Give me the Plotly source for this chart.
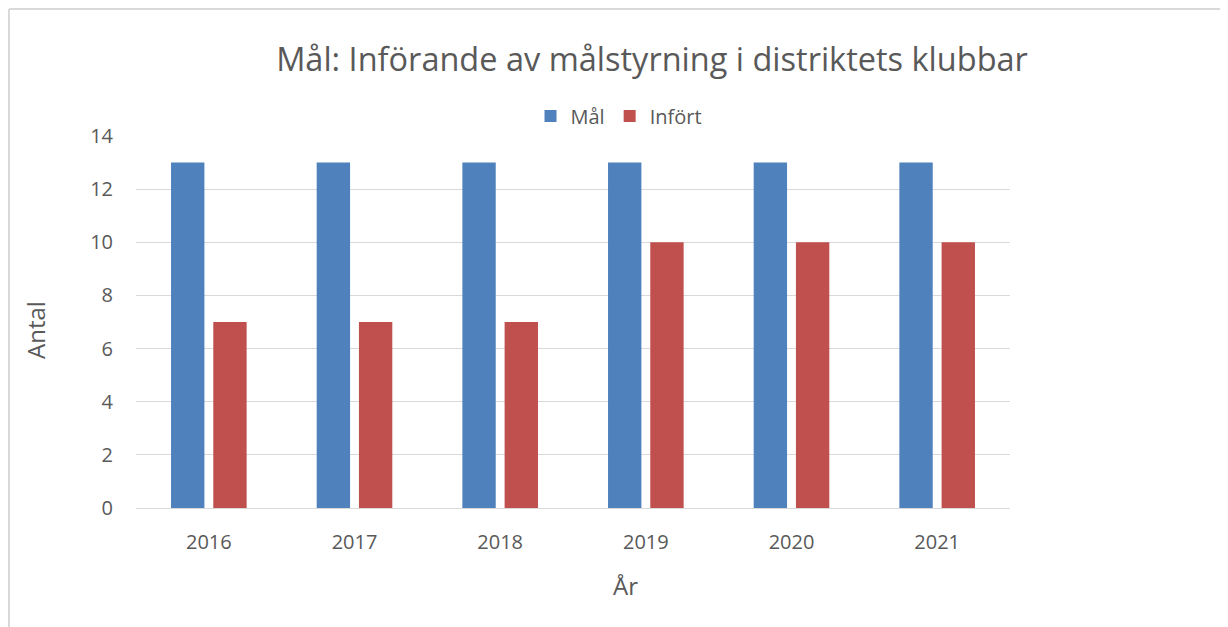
import plotly.graph_objects as go

years = ["2016", "2017", "2018", "2019", "2020", "2021"]
mal = [13, 13, 13, 13, 13, 13]
infort = [7, 7, 7, 10, 10, 10]
y_ticks = [0, 2, 4, 6, 8, 10, 12, 14]

# page offset (browser body margin)
OFF = 8
PW, PH = 1228, 627
W, H = PW - OFF, PH - OFF
L, R, T, B = 136, 1010, 136, 508  # plot area in page pixels
txt = "#595959"
grid = "#D9D9D9"
font = "Open Sans"

fig = go.Figure()
fig.add_trace(go.Bar(name="Mål", x=years, y=mal, marker=dict(color="#4F81BD", line=dict(width=0))))
fig.add_trace(go.Bar(name="Infört", x=years, y=infort, marker=dict(color="#C0504D", line=dict(width=0))))

def px_x(p):
    return (p - L) / (R - L)

def px_y(p):
    return (B - p) / (B - T)

fig.update_layout(
    width=W, height=H,
    margin=dict(l=L - OFF, r=W - (R - OFF), t=T - OFF, b=H - (B - OFF), pad=0),
    paper_bgcolor="white", plot_bgcolor="white",
    barmode="group", bargap=0.42, bargroupgap=0.21,
    font=dict(family=font, color=txt),
    title=dict(text="Mål: Införande av målstyrning i distriktets klubbar",
               x=px_x(652), xref="paper", xanchor="center",
               y=1 - (60 - OFF) / H, yref="container", yanchor="middle",
               font=dict(size=32.5, color=txt, family=font)),
    legend=dict(orientation="h", x=px_x(619), xanchor="center", y=px_y(116), yanchor="middle",
                font=dict(size=20, color=txt), itemwidth=30, traceorder="normal",
                bgcolor="rgba(0,0,0,0)"),
    xaxis=dict(showgrid=False, showline=True, linecolor=grid, linewidth=1,
               tickfont=dict(size=20, color=txt), ticks="", ticklabelstandoff=16),
    yaxis=dict(range=[0, 14], tickvals=y_ticks, showgrid=True, gridcolor=grid, gridwidth=1,
               zeroline=False, showline=False, ticks="",
               tickfont=dict(size=20, color=txt), ticklabelstandoff=22),
    annotations=[
        dict(text="År", xref="paper", yref="paper", x=px_x(625), y=px_y(585),
             xanchor="center", yanchor="middle", showarrow=False,
             font=dict(size=24, color=txt, family=font)),
        dict(text="Antal", xref="paper", yref="paper", x=px_x(35), y=px_y(330),
             xanchor="center", yanchor="middle", showarrow=False, textangle=-90,
             font=dict(size=24, color=txt, family=font)),
    ],
    shapes=[
        dict(type="line", xref="paper", yref="paper", x0=px_x(9), x1=px_x(9), y0=px_y(640), y1=px_y(9),
             line=dict(color=grid, width=2)),
        dict(type="line", xref="paper", yref="paper", x0=px_x(9), x1=px_x(1240), y0=px_y(9), y1=px_y(9),
             line=dict(color=grid, width=2)),
    ],
)
fig.write_html("out.html")
